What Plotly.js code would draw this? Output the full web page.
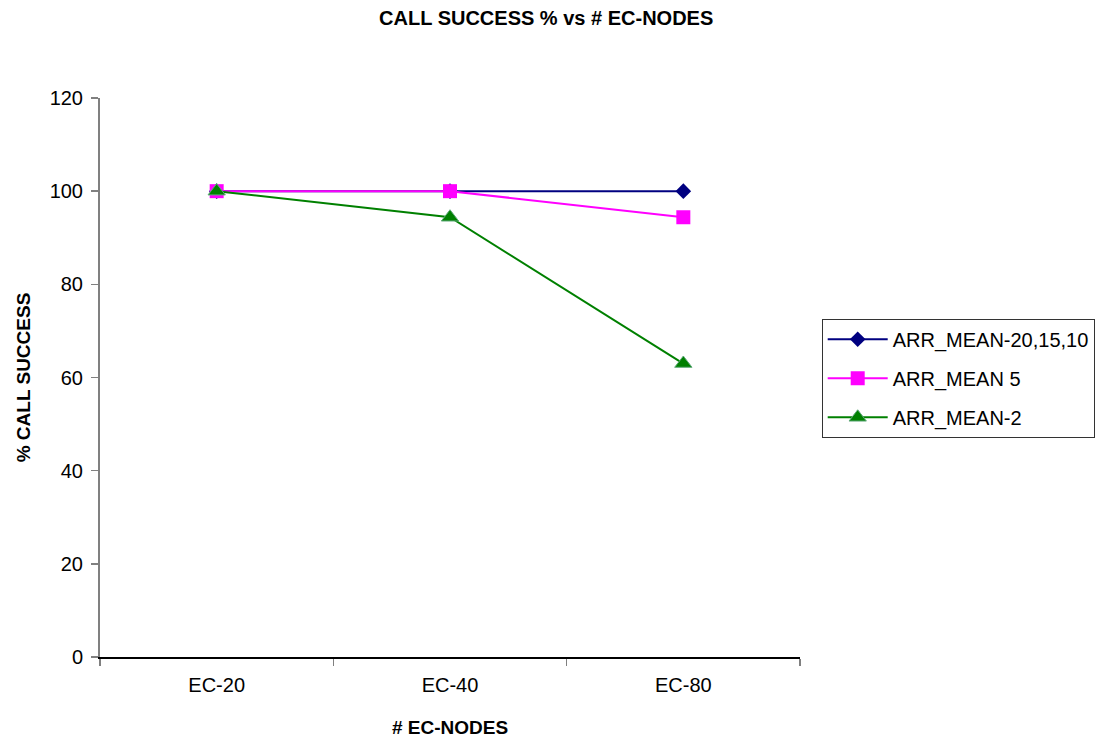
<!DOCTYPE html>
<html>
<head>
<meta charset="utf-8">
<script src="https://cdn.plot.ly/plotly-3.0.1.min.js"></script>
<style>
  html, body { margin: 0; padding: 0; background: #fff; overflow: hidden; }
  #chart { width: 1099px; height: 740px; }
</style>
</head>
<body>
<div id="chart"></div>
<script>
// Node-count categories and call success percentages per arrival mean
const categories = ["EC-20", "EC-40", "EC-80"];
const seriesNames = ["ARR_MEAN-20,15,10", "ARR_MEAN 5", "ARR_MEAN-2"];
const arrMean20_15_10 = [100, 100, 100];
const arrMean5 = [100, 100, 94.4];
const arrMean2 = [100, 94.4, 63];
const yTicks = [0, 20, 40, 60, 80, 100, 120];

const FONT = "Arial, 'Liberation Sans', sans-serif";

const traces = [
  {
    x: categories, y: arrMean20_15_10, name: seriesNames[0], legendgroup: "a",
    type: "scatter", mode: "lines+markers",
    line: { color: "#000080", width: 2 },
    marker: { symbol: "diamond", size: 12, color: "#000080" }
  },
  {
    x: categories, y: arrMean5, name: seriesNames[1], legendgroup: "b",
    type: "scatter", mode: "lines+markers",
    line: { color: "#FF00FF", width: 2 },
    marker: { symbol: "square", size: 14, color: "#FF00FF" }
  },
  {
    x: categories, y: arrMean2, name: seriesNames[2], legendgroup: "c",
    type: "scatter", mode: "lines+markers",
    line: { color: "#008000", width: 2 },
    marker: { symbol: "triangle-up", size: 15, color: "#008000",
              line: { color: "#5fa97a", width: 1 } }
  }
];

const layout = {
  width: 1099, height: 740,
  paper_bgcolor: "#ffffff", plot_bgcolor: "#ffffff",
  margin: { l: 100, r: 299, t: 98, b: 83, autoexpand: false },
  font: { family: FONT, size: 20, color: "#000" },
  title: {
    text: "<b>CALL SUCCESS % vs # EC-NODES</b>",
    font: { family: FONT, size: 20, color: "#000" },
    x: 0.497, xanchor: "center", y: 0.976, yanchor: "middle"
  },
  xaxis: {
    type: "category",
    range: [-0.5, 2.5],
    tickson: "boundaries",
    ticks: "outside", ticklen: 7, tickcolor: "#808080", tickwidth: 1.5,
    ticklabelstandoff: 9,
    showline: true, linecolor: "#000", linewidth: 1.5,
    showgrid: false, zeroline: false,
    tickfont: { family: FONT, size: 20, color: "#000" },
    title: { text: "<b># EC-NODES</b>", font: { family: FONT, size: 19, color: "#000" }, standoff: 26 }
  },
  yaxis: {
    range: [0, 120],
    tickvals: yTicks,
    ticks: "outside", ticklen: 7, tickcolor: "#808080", tickwidth: 1.5,
    ticklabelstandoff: 4,
    showline: true, linecolor: "#808080", linewidth: 2,
    showgrid: false, zeroline: false,
    tickfont: { family: FONT, size: 20, color: "#000" },
    title: { text: "<b>% CALL SUCCESS</b>", font: { family: FONT, size: 19, color: "#000" }, standoff: 14 }
  },
  showlegend: true,
  legend: {
    x: 1.031, xanchor: "left",
    y: 0.605, yanchor: "top",
    bordercolor: "#333", borderwidth: 1,
    bgcolor: "#fff",
    font: { family: FONT, size: 20, color: "#000" },
    tracegroupgap: 10,
    itemwidth: 60
  }
};

Plotly.newPlot("chart", traces, layout, { displayModeBar: false, staticPlot: true });
</script>
</body>
</html>
